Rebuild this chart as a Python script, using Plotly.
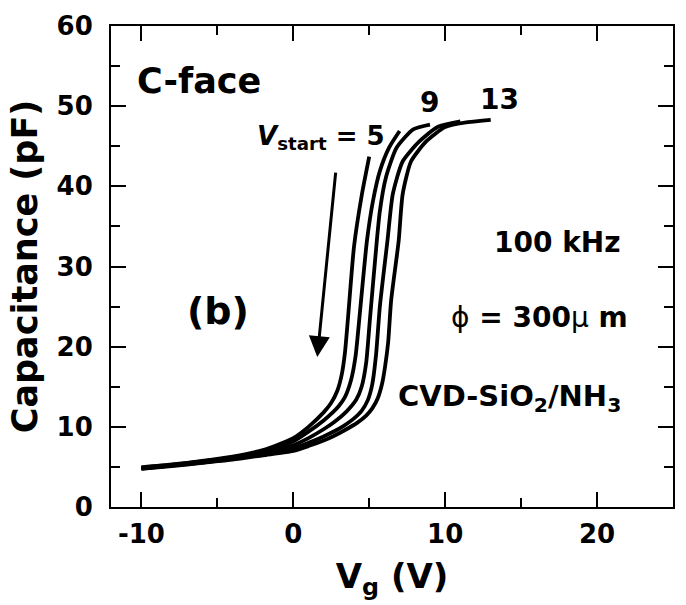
import plotly.graph_objects as go

# C-V sweeps for different start voltages (V_start = 5, 7, 9, 11, 13 V)
vg_5 = [-10, -8, -6, -4, -2, 0, 1, 2, 2.5, 2.9, 3.2, 3.4, 3.6, 4.0, 4.5, 5.0]
c_5 = [4.95, 5.3, 5.75, 6.3, 7.1, 8.6, 10.0, 11.8, 13.0, 14.5, 16.6, 19.2, 23.5, 32.5, 38.8, 43.7]

vg_7 = [-10, -8, -6, -4, -2, 0, 1, 2, 2.6, 3.0, 3.4, 3.8, 4.1, 4.4, 4.85, 5.25, 5.7, 6.3, 7.0]
c_7 = [4.9, 5.25, 5.7, 6.2, 6.95, 8.2, 9.4, 10.8, 11.8, 12.6, 13.7, 15.8, 18.8, 24.5, 33.2, 38.2, 41.9, 44.8, 46.9]

vg_9 = [-10, -8, -6, -4, -2, 0, 1, 2, 2.7, 3.5, 4.15, 4.5, 4.8, 5.05, 5.5, 5.7, 6.1, 6.8, 7.9, 9.0]
c_9 = [4.85, 5.2, 5.65, 6.1, 6.8, 7.7, 8.6, 9.7, 10.6, 11.9, 13.4, 15.0, 18.0, 23.5, 33.2, 36.9, 41.1, 44.8, 47.1, 47.7]

vg_11 = [-10, -8, -6, -4, -2, 0, 1, 2, 2.6, 3.3, 3.9, 4.5, 4.9, 5.2, 5.45, 5.7, 6.2, 6.55, 7.2, 8.3, 9.5, 11.0]
c_11 = [4.8, 5.15, 5.55, 6.0, 6.6, 7.3, 8.0, 8.8, 9.35, 10.1, 10.9, 12.0, 13.3, 15.3, 19.0, 25.0, 33.2, 39.0, 43.1, 45.6, 47.4, 48.1]

vg_13 = [-10, -8, -6, -4, -2, 0, 1, 2, 2.6, 3.5, 4.2, 4.8, 5.2, 5.57, 5.85, 6.05, 6.25, 6.44, 6.94, 7.2, 7.75, 8.75, 10.0, 11.5, 13.0]
c_13 = [4.75, 5.1, 5.5, 5.9, 6.45, 7.0, 7.6, 8.3, 8.8, 9.7, 10.5, 11.4, 12.3, 13.6, 15.4, 17.6, 20.6, 25.7, 33.2, 39.0, 43.1, 45.6, 47.4, 48.0, 48.3]

x_ticks = [-10, 0, 10, 20]
x_tick_labels = ["-10", "0", "10", "20"]
y_ticks = [0, 10, 20, 30, 40, 50, 60]
y_tick_labels = ["0", "10", "20", "30", "40", "50", "60"]

FONT = "DejaVu Sans"

fig = go.Figure()
for vg, c in [(vg_5, c_5), (vg_7, c_7), (vg_9, c_9), (vg_11, c_11), (vg_13, c_13)]:
    fig.add_trace(go.Scatter(
        x=vg, y=c, mode="lines",
        line=dict(color="black", width=3.8, shape="spline", smoothing=0.6),
        showlegend=False, hoverinfo="skip",
    ))

axis_common = dict(
    showline=True, linecolor="black", linewidth=2, mirror="allticks",
    ticks="inside", ticklen=15, tickwidth=2, tickcolor="black",
    showgrid=False, zeroline=False,
    tickfont=dict(family=FONT, size=26, color="black", weight="bold"),
)

fig.update_xaxes(
    range=[-12, 25], tickmode="array", tickvals=x_ticks, ticktext=x_tick_labels,
    minor=dict(dtick=5, tick0=0, ticks="inside", ticklen=9, tickwidth=2, tickcolor="black"),
    ticklabelstandoff=3,
    title=dict(text="V<sub>g</sub> (V)", font=dict(family=FONT, size=34, color="black", weight="bold"),
               standoff=16),
    **axis_common,
)
fig.update_yaxes(
    range=[0, 60], tickmode="array", tickvals=y_ticks, ticktext=y_tick_labels,
    minor=dict(dtick=5, tick0=0, ticks="inside", ticklen=9, tickwidth=2, tickcolor="black"),
    ticklabelstandoff=11,
    title=dict(text="Capacitance (pF)", font=dict(family=FONT, size=35, color="black", weight="bold"),
               standoff=8),
    **axis_common,
)

def label(text, x, y, size, xanchor="center", yanchor="middle"):
    fig.add_annotation(
        x=x, y=y, xref="x", yref="y", text=text, showarrow=False,
        xanchor=xanchor, yanchor=yanchor,
        font=dict(family=FONT, size=size, color="black", weight="bold"),
    )

label("C-face", -10.4, 53.2, 35, xanchor="left")
label("<i>V</i><sub>start</sub> = 5", -2.5, 46.1, 26, xanchor="left")
label("9", 8.95, 50.4, 28)
label("13", 13.6, 50.8, 28)
label("(b)", -4.96, 24.4, 38)
label("100 kHz", 21.72, 33.0, 28, xanchor="right")
label("<span style='font-weight:normal'>ϕ</span> = 300<span style='font-weight:normal'>μ</span> m",
      22.16, 23.6, 28, xanchor="right")
label("CVD-SiO<sub>2</sub>/NH<sub>3</sub>", 21.72, 13.6, 29, xanchor="right")

# sweep-direction arrow
fig.add_annotation(
    x=1.58, y=18.7, ax=2.8, ay=41.9, xref="x", yref="y", axref="x", ayref="y",
    text="", showarrow=True, arrowhead=2, arrowsize=1.4, arrowwidth=3, arrowcolor="black",
)

fig.update_layout(
    width=686, height=605,
    margin=dict(l=111, r=11, t=24, b=98),
    paper_bgcolor="white", plot_bgcolor="white",
    font=dict(family=FONT, color="black"),
)

fig.write_html("out.html")
